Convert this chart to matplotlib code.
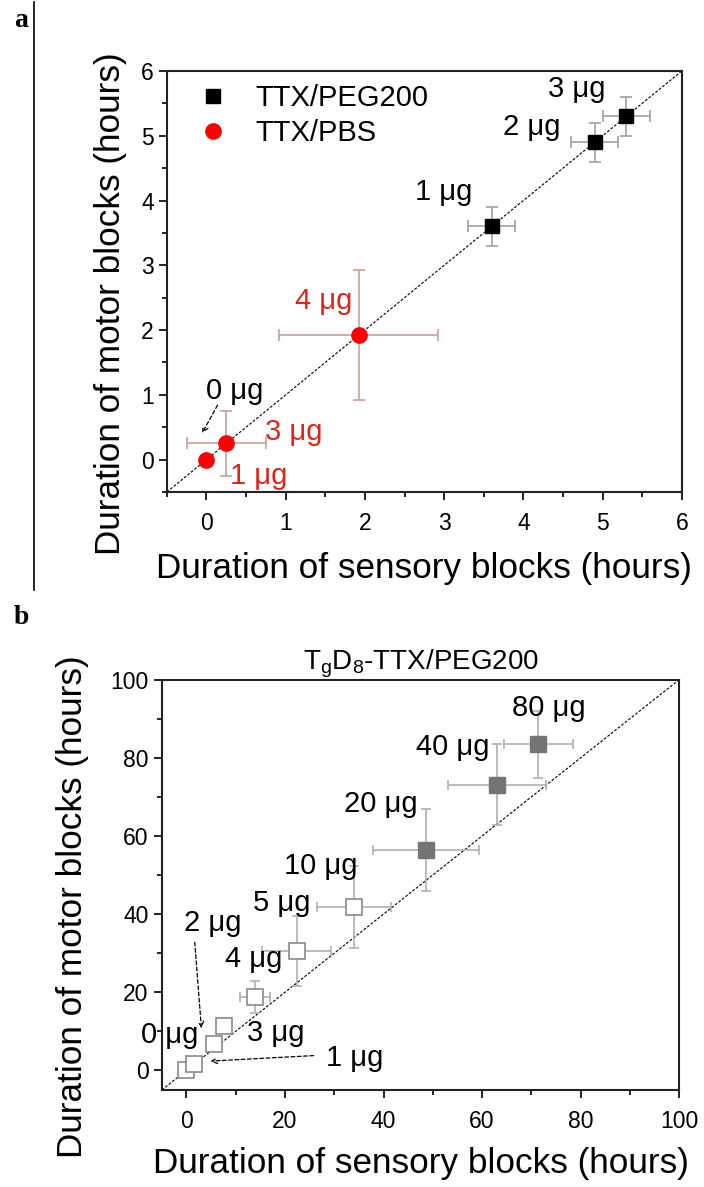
import matplotlib.pyplot as plt
from matplotlib.ticker import MultipleLocator

plt.rcParams['font.family'] = ['Liberation Sans', 'DejaVu Sans']

# panel a: TTX in PEG200 vs PBS
peg_dose = ['1 μg', '2 μg', '3 μg']
peg_sens = [3.6, 4.9, 5.3]
peg_motor = [3.6, 4.9, 5.3]
peg_sens_err = [0.3, 0.3, 0.3]
peg_motor_err = [0.3, 0.3, 0.3]

pbs_dose = ['1 μg', '3 μg', '4 μg']
pbs_sens = [0.0, 0.25, 1.92]
pbs_motor = [0.0, 0.25, 1.92]
pbs_sens_err = [0.0, 0.5, 1.0]
pbs_motor_err = [0.0, 0.5, 1.0]

# panel b: TgD8-TTX/PEG200
tg_dose = ['0 μg', '1 μg', '2 μg', '3 μg', '4 μg', '5 μg', '10 μg', '20 μg', '40 μg', '80 μg']
tg_sens = [0.0, 1.5, 5.7, 7.7, 13.9, 22.4, 34.1, 48.6, 63.0, 71.4]
tg_motor = [0.0, 1.6, 6.9, 11.5, 18.8, 30.5, 41.8, 56.4, 73.1, 83.4]
tg_sens_err = [0.0, 0.0, 1.0, 1.0, 3.0, 7.0, 7.5, 10.7, 10.0, 7.0]
tg_motor_err = [0.0, 0.0, 1.5, 2.0, 4.0, 9.0, 10.5, 10.6, 10.3, 8.6]
tg_filled = [False, False, False, False, False, False, False, True, True, True]

RED = '#ff0000'
RED_TXT = '#e2231a'
LBL = 21

fig = plt.figure(figsize=(7.04, 11.87), dpi=100)
ax1 = fig.add_axes([0.237, 0.5855, 0.7315, 0.3547])
ax2 = fig.add_axes([0.2297, 0.0817, 0.7352, 0.3458])


def style_axes(ax, lo, hi, major, minor, ypad, xpad):
    ax.set_xlim(lo, hi)
    ax.set_ylim(lo, hi)
    ax.xaxis.set_major_locator(MultipleLocator(major))
    ax.yaxis.set_major_locator(MultipleLocator(major))
    ax.xaxis.set_minor_locator(MultipleLocator(minor))
    ax.yaxis.set_minor_locator(MultipleLocator(minor))
    ax.tick_params(which='both', direction='out', top=False, right=False,
                   width=1.2, labelsize=16.5)
    ax.tick_params(which='major', length=6)
    ax.tick_params(which='minor', length=3.5)
    ax.tick_params(axis='x', which='major', pad=8.5)
    for s in ax.spines.values():
        s.set_linewidth(1.5)
        s.set_color('#222222')
    # y = x reference line
    ax.plot([lo, hi], [lo, hi], ls=(0, (2.5, 1.5)), color='black', lw=0.8, zorder=1)
    ax.set_xlabel('Duration of sensory blocks (hours)', fontsize=25.3, labelpad=xpad)
    ax.set_ylabel('Duration of motor blocks (hours)', fontsize=25.3, labelpad=ypad)
    ax.yaxis.label.set_y(0.447)


def dashed_arrow(ax, start, tip):
    ax.annotate('', xy=tip, xytext=start,
                arrowprops=dict(arrowstyle='->', ls=(0, (3, 2)), lw=0.9, color='black',
                                shrinkA=0, shrinkB=0))


style_axes(ax1, -0.5, 6, 1, 0.5, ypad=10, xpad=12)
ax1.errorbar(peg_sens, peg_motor, xerr=peg_sens_err, yerr=peg_motor_err, fmt='none',
             ecolor='#a0a0a0', elinewidth=1.2, capsize=4, capthick=1.2, zorder=2)
ax1.errorbar(pbs_sens, pbs_motor, xerr=pbs_sens_err, yerr=pbs_motor_err, fmt='none',
             ecolor='#c9a0a0', elinewidth=1.2, capsize=4, capthick=1.2, zorder=2)
ax1.plot(peg_sens, peg_motor, 's', color='black', ms=10, ls='none', label='TTX/PEG200', zorder=3)
ax1.plot(pbs_sens, pbs_motor, 'o', color=RED, ms=11, ls='none', label='TTX/PBS', zorder=3)
ax1.legend(loc='upper left', frameon=False, fontsize=LBL, handlelength=1.0,
           handletextpad=0.95, borderpad=0, borderaxespad=0, labelspacing=0.25,
           bbox_to_anchor=(0.061, 0.969))

# dose labels, panel a
ax1.text(3.0, 4.13, peg_dose[0], fontsize=LBL, ha='center', va='center')
ax1.text(4.1, 5.14, peg_dose[1], fontsize=LBL, ha='center', va='center')
ax1.text(4.67, 5.72, peg_dose[2], fontsize=LBL, ha='center', va='center')
ax1.text(0.66, -0.25, pbs_dose[0], fontsize=LBL, ha='center', va='center', color=RED_TXT)
ax1.text(1.1, 0.43, pbs_dose[1], fontsize=LBL, ha='center', va='center', color=RED_TXT)
ax1.text(1.48, 2.45, pbs_dose[2], fontsize=LBL, ha='center', va='center', color=RED_TXT)
ax1.text(0.35, 1.06, '0 μg', fontsize=LBL, ha='center', va='center')
dashed_arrow(ax1, (0.14, 0.84), (-0.055, 0.41))

style_axes(ax2, -5, 100, 20, 10, ypad=15, xpad=10)
ax2.errorbar(tg_sens, tg_motor, xerr=tg_sens_err, yerr=tg_motor_err, fmt='none',
             ecolor='#b0b0b0', elinewidth=1.2, capsize=3.5, capthick=1.2, zorder=2)
for x, y, f in zip(tg_sens, tg_motor, tg_filled):
    if f:
        ax2.plot(x, y, 's', ms=11.5, mfc='#747474', mec='#747474', zorder=3)
    else:
        ax2.plot(x, y, 's', ms=11, mfc='white', mec='#8a8a8a', mew=1.2, zorder=3)
ax2.set_title('T$_\\mathregular{g}$D$_\\mathregular{8}$-TTX/PEG200', fontsize=20, pad=5)

# dose labels, panel b
tg_label_pos = {'0 μg': (-3.4, 9.0), '1 μg': (34.1, 3.3), '2 μg': (5.4, 37.6),
                '3 μg': (18.2, 9.5), '4 μg': (13.6, 28.4), '5 μg': (19.4, 42.8),
                '10 μg': (27.3, 52.2), '20 μg': (39.5, 68.1), '40 μg': (54.1, 82.8),
                '80 μg': (73.6, 92.6)}
for d in tg_dose:
    tx, ty = tg_label_pos[d]
    ax2.text(tx, ty, d, fontsize=LBL, ha='center', va='center')
dashed_arrow(ax2, (1.7, 32.8), (3.05, 10.8))
dashed_arrow(ax2, (25.8, 3.8), (4.9, 2.4))

# panel letters and separator
fig.text(0.02, 0.983, 'a', fontsize=20, fontweight='bold', family='Liberation Serif', va='center')
fig.text(0.02, 0.48, 'b', fontsize=20, fontweight='bold', family='Liberation Serif', va='center')
fig.add_artist(plt.Line2D([0.049, 0.049], [0.503, 0.998], color='black', lw=1.2))

fig.savefig('out.png', dpi=100)
